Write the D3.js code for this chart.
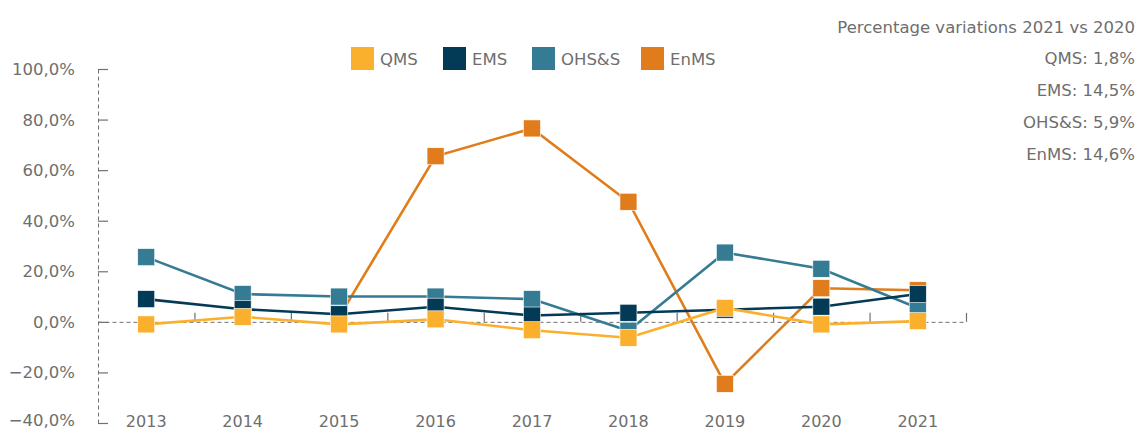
<!DOCTYPE html>
<html>
<head>
<meta charset="utf-8">
<script src="https://cdn.jsdelivr.net/npm/d3@7"></script>
<style>
  html, body { margin: 0; padding: 0; background: #fff; }
  svg { display: block; font-family: "DejaVu Sans", "Noto Sans", sans-serif; }
  .lbl { fill: #6e6e6e; }
</style>
</head>
<body>
<svg id="chart" width="1139" height="431"></svg>
<script>
// ── Data ─────────────────────────────────────────────────────────────────────
const years = ['2013', '2014', '2015', '2016', '2017', '2018', '2019', '2020', '2021'];
const qms   = [-1.0, 2.0, -1.0, 1.0, -3.3, -6.3, 5.5, -1.0, 0.3];
const ems   = [9.0, 5.0, 3.0, 6.0, 2.5, 3.6, 4.8, 6.0, 11.0];
const ohss  = [25.6, 11.0, 10.0, 10.0, 9.0, -3.5, 27.4, 21.0, 5.5];
const enms  = [null, null, 2.0, 65.5, 76.5, 47.5, -24.5, 13.3, 12.5];
const yTicks = [-40, -20, 0, 20, 40, 60, 80, 100];
const notesTitle = 'Percentage variations 2021 vs 2020';
const notes = ['QMS: 1,8%', 'EMS: 14,5%', 'OHS&S: 5,9%', 'EnMS: 14,6%'];

const series = [
  { name: 'QMS',   values: qms,  color: '#FBB02D' },
  { name: 'EMS',   values: ems,  color: '#033A55' },
  { name: 'OHS&S', values: ohss, color: '#357B94' },
  { name: 'EnMS',  values: enms, color: '#E07C1B' },
];

const axisCol = '#707070';
const locale = d3.formatLocale({ decimal: ',', thousands: '.', grouping: [3], currency: ['', '€'] });
const fmt = v => locale.format('.1f')(v) + '%';

const svg = d3.select('#chart');
const m = { left: 98, right: 966, top: 69, bottom: 423 };

const x = d3.scaleBand().domain(years).range([m.left, m.right]).padding(0);
const xEdge = d3.scaleLinear().domain([0, years.length]).range([m.left, m.right]);
const y = d3.scaleLinear().domain([-40, 100]).range([m.bottom, m.top]);

// Y axis — dashed spine, short inward ticks
const gy = svg.append('g').attr('transform', `translate(${m.left},0)`)
  .call(d3.axisLeft(y).tickValues(yTicks).tickSize(-10).tickSizeOuter(0).tickFormat(''));
gy.select('.domain').attr('stroke', axisCol).attr('stroke-dasharray', '4,3');
gy.selectAll('.tick line').attr('stroke', axisCol).attr('stroke-width', 1.2);

svg.append('g').selectAll('text').data(yTicks).join('text')
  .attr('class', 'lbl')
  .attr('x', 75).attr('y', d => Math.min(y(d), 420)).attr('dy', '0.36em')
  .attr('text-anchor', 'end').attr('font-size', 16.5)
  .text(fmt);

// X axis at zero — dashed line, ticks on category boundaries pointing up
const gx = svg.append('g').attr('transform', `translate(0,${y(0)})`)
  .call(d3.axisBottom(xEdge).ticks(years.length).tickSize(-9).tickSizeOuter(0).tickFormat(''));
gx.select('.domain').attr('stroke', axisCol).attr('stroke-dasharray', '4,3');
gx.selectAll('.tick').filter(d => d === 0).remove();
gx.selectAll('.tick line').attr('stroke', axisCol).attr('stroke-width', 1.2);

svg.append('g').selectAll('text').data(years).join('text')
  .attr('class', 'lbl')
  .attr('x', d => x(d) + x.bandwidth() / 2).attr('y', 427)
  .attr('text-anchor', 'middle').attr('font-size', 16)
  .text(d => d);

// Series — drawn back to front so QMS ends up on top
const line = d3.line()
  .defined(d => d.v != null)
  .x(d => x(d.year) + x.bandwidth() / 2)
  .y(d => y(d.v));

const ms = 17;
series.slice().reverse().forEach(s => {
  const pts = years.map((yr, i) => ({ year: yr, v: s.values[i] }));
  svg.append('path').datum(pts)
    .attr('fill', 'none').attr('stroke', s.color).attr('stroke-width', 2.6)
    .attr('d', line);
  svg.append('g').selectAll('rect').data(pts.filter(d => d.v != null)).join('rect')
    .attr('x', d => x(d.year) + x.bandwidth() / 2 - ms / 2)
    .attr('y', d => y(d.v) - ms / 2)
    .attr('width', ms).attr('height', ms)
    .attr('fill', s.color)
    .attr('stroke', '#fff').attr('stroke-width', 0.6);
});

// Legend
const legendX = [351, 443, 532, 641];
const lg = svg.append('g');
series.forEach((s, i) => {
  lg.append('rect').attr('x', legendX[i]).attr('y', 47).attr('width', 23).attr('height', 23).attr('fill', s.color);
  lg.append('text').attr('class', 'lbl')
    .attr('x', legendX[i] + 29).attr('y', 59).attr('dy', '0.36em')
    .attr('font-size', 16.5).text(s.name);
});

// Notes block, top right
svg.append('text').attr('class', 'lbl')
  .attr('x', 1135).attr('y', 27).attr('dy', '0.36em')
  .attr('text-anchor', 'end').attr('font-size', 16.5).text(notesTitle);
svg.append('g').selectAll('text').data(notes).join('text')
  .attr('class', 'lbl')
  .attr('x', 1135).attr('y', (d, i) => 58 + i * 32).attr('dy', '0.36em')
  .attr('text-anchor', 'end').attr('font-size', 16.5)
  .text(d => d);
</script>
</body>
</html>
